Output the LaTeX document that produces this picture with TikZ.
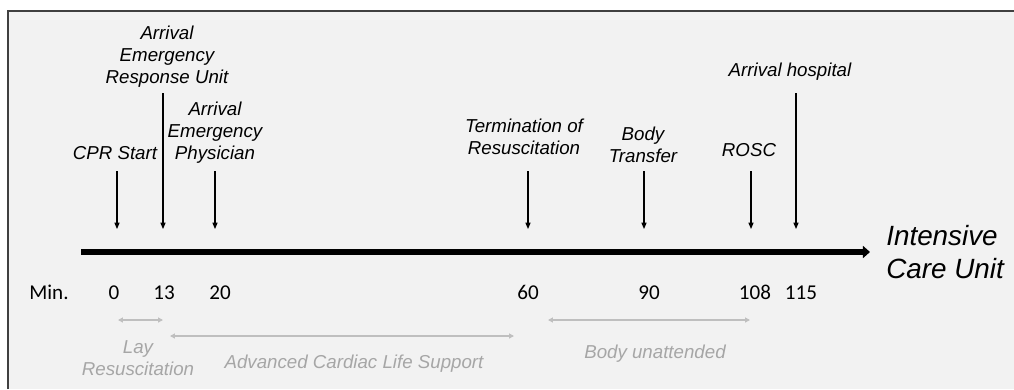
\documentclass[tikz,border=0pt]{standalone}
\usepackage{fontspec}
\usepackage{tikz}
\usetikzlibrary{arrows.meta}
\setmainfont{Liberation Sans}
\newfontfamily\minfont{Carlito}
\definecolor{panelgrey}{HTML}{F2F2F2}
\definecolor{framegrey}{HTML}{404040}
\definecolor{phasegrey}{HTML}{A6A6A6}
\definecolor{phasearrowgrey}{HTML}{BFBFBF}
\tikzset{
    event-label/.style = {inner sep=0pt, align=center, font=\fontsize{13.3}{15.6}\selectfont\itshape},
    event-arrow/.style = {black, line width=0.75pt, -{Triangle[length=4.5pt,width=3.6pt]}},
    min-label/.style = {inner sep=0pt, anchor=base, font=\fontsize{15}{18}\selectfont\minfont},
    phase-label/.style = {event-label, text=phasegrey},
    phase-arrow/.style = {phasearrowgrey, line width=0.8pt, {Triangle[length=3.5pt,width=3.5pt]}-{Triangle[length=3.5pt,width=3.5pt]}},
}

\begin{document}
\begin{tikzpicture}[x=0.025cm, y=-0.025cm]
\useasboundingbox (0,0) rectangle (1014,389);
\fill[white] (0,0) rectangle (1014,389);
\fill[panelgrey] (8,11) rectangle (1014,389);
\draw[framegrey, line width=1.4pt] (8,389) -- (8,11) -- (1014,11);

% time axis
\coordinate (axis-start) at (81,252);
\coordinate (axis-end) at (870,252);
\draw[line width=4.3pt, -{Triangle[length=5pt,width=8.5pt]}] (axis-start) -- (axis-end);
\node[event-label, font=\fontsize{19.8}{23.4}\selectfont\itshape, anchor=west, align=left] (icu) at (886,252) {Intensive\\Care Unit};

% events
\node[event-label] (cpr) at (115,153) {CPR Start};
\node[event-label] (eru) at (167,57) {Arrival\\Emergency\\Response Unit};
\node[event-label] (aep) at (215,133) {Arrival\\Emergency\\Physician};
\node[event-label] (tor) at (524,137) {Termination of\\Resuscitation};
\node[event-label] (transfer) at (643,145) {Body\\Transfer};
\node[event-label] (rosc) at (749,150) {ROSC};
\node[event-label] (hospital) at (790,72) {Arrival hospital};

\foreach \ev/\x/\top in {cpr/117/171, eru/163/93, aep/215/171, tor/528/171, transfer/644/171, rosc/751/171, hospital/796/93} {
    \coordinate (\ev-top) at (\x,\top);
    \coordinate (\ev-tip) at (\x,229);
    \draw[event-arrow] (\ev-top) -- (\ev-tip);
}

% minutes
\node[min-label] (min) at (49,299) {Min.};
\foreach \t/\x in {0/114, 13/164, 20/220, 60/528, 90/649, 108/755, 115/801}
    \node[min-label] (t\t) at (\x,299) {\t};

% phases
\coordinate (lay-start) at (118,320);
\coordinate (lay-end) at (163,320);
\coordinate (acls-start) at (170,336);
\coordinate (acls-end) at (514,336);
\coordinate (unatt-start) at (548,320);
\coordinate (unatt-end) at (750,320);
\draw[phase-arrow] (lay-start) -- (lay-end);
\draw[phase-arrow] (acls-start) -- (acls-end);
\draw[phase-arrow] (unatt-start) -- (unatt-end);
\node[phase-label] (lay) at (138,358) {Lay\\Resuscitation};
\node[phase-label] (acls) at (354,364) {Advanced Cardiac Life Support};
\node[phase-label] (unatt) at (655,354) {Body unattended};
\end{tikzpicture}
\end{document}
